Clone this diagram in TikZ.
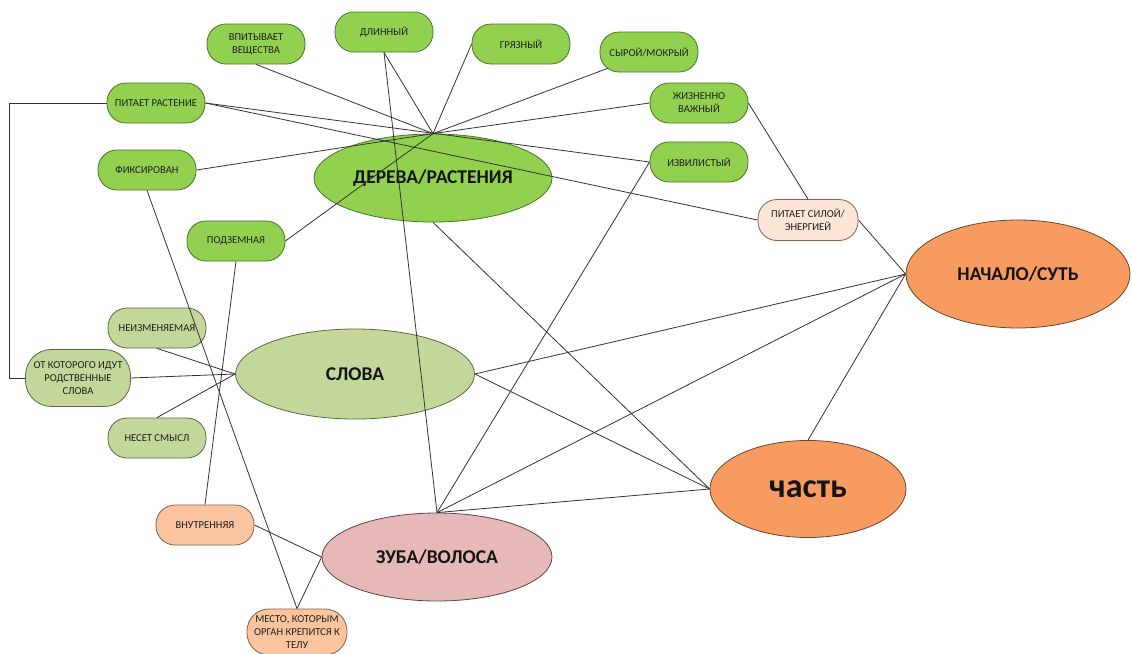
\documentclass[tikz,border=0pt]{standalone}
\usepackage{fontspec}
\setmainfont{Carlito}
\usetikzlibrary{shapes.geometric,calc}
\definecolor{gr}{HTML}{92D050}
\definecolor{grd}{HTML}{4A7526}
\definecolor{ol}{HTML}{C4D79B}
\definecolor{old}{HTML}{5C6842}
\definecolor{pl}{HTML}{FCE4D6}
\definecolor{pk}{HTML}{FAC59E}
\definecolor{pd}{HTML}{7E6350}
\definecolor{org}{HTML}{F89B60}
\definecolor{orgd}{HTML}{6E4428}
\definecolor{rose}{HTML}{E6B9B8}
\definecolor{rosed}{HTML}{5E4646}
\definecolor{ln}{HTML}{333333}
\begin{document}
\begin{tikzpicture}[x=1pt,y=-1pt,
  pill/.style={rectangle,rounded corners=19pt,minimum width=98pt,minimum height=40pt,
    inner sep=1pt,align=center,font=\fontsize{10.6}{13}\selectfont,text=black!88,line width=0.8pt},
  grpill/.style={pill,fill=gr,draw=grd},
  olpill/.style={pill,fill=ol,draw=old},
  plpill/.style={pill,fill=pl,draw=pd},
  pkpill/.style={pill,fill=pk,draw=pd},
  bigell/.style={ellipse,inner sep=0pt,line width=0.8pt,font=\fontsize{19.5}{22}\bfseries,text=black!92},
  conn/.style={draw=ln,line width=0.8pt}
]
\useasboundingbox (0,0) rectangle (1132,653);
\fill[white] (0,0) rectangle (1132,653);

% big ellipses
\node[bigell,fill=gr,draw=grd,minimum width=238pt,minimum height=88pt] (derev) at (433,178) {ДЕРЕВА/РАСТЕНИЯ};
\node[bigell,fill=org,draw=orgd,minimum width=224pt,minimum height=108pt] (nach) at (1018,274) {НАЧАЛО/СУТЬ};
\node[bigell,fill=ol,draw=old,minimum width=239pt,minimum height=90pt] (slova) at (355,374) {СЛОВА};
\node[bigell,fill=rose,draw=rosed,minimum width=230pt,minimum height=88pt] (zuba) at (437,557) {ЗУБА/ВОЛОСА};
\node[bigell,fill=org,draw=orgd,minimum width=196pt,minimum height=97pt,font=\fontsize{34}{36}\bfseries] (chast) at (808,489) {часть};

% green pills
\node[grpill] (vpit) at (256,44) {ВПИТЫВАЕТ\\ВЕЩЕСТВА};
\node[grpill] (dlin) at (384,32) {ДЛИННЫЙ};
\node[grpill] (gryaz) at (521,44) {ГРЯЗНЫЙ};
\node[grpill] (syr) at (649,52) {СЫРОЙ/МОКРЫЙ};
\node[grpill] (zhizn) at (699,103) {ЖИЗНЕННО\\ВАЖНЫЙ};
\node[grpill] (pitr) at (156,103) {ПИТАЕТ РАСТЕНИЕ};
\node[grpill] (fiks) at (147,170) {ФИКСИРОВАН};
\node[grpill] (izv) at (699,162) {ИЗВИЛИСТЫЙ};
\node[grpill] (podz) at (236,241) {ПОДЗЕМНАЯ};

% olive pills
\node[olpill] (neizm) at (157,328) {НЕИЗМЕНЯЕМАЯ};
\node[olpill,minimum width=105pt,minimum height=57pt,rounded corners=26pt,inner sep=0pt] (otk) at (78,378) {ОТ КОТОРОГО ИДУТ\\РОДСТВЕННЫЕ\\СЛОВА};
\node[olpill] (nes) at (157,438) {НЕСЕТ СМЫСЛ};

% peach pills
\node[plpill,minimum width=100pt,minimum height=41pt] (pits) at (808,220) {ПИТАЕТ СИЛОЙ/\\ЭНЕРГИЕЙ};
\node[pkpill] (vnutr) at (205,525) {ВНУТРЕННЯЯ};
\node[pkpill,minimum width=100pt,minimum height=46pt,rounded corners=22pt,inner sep=0pt] (mesto) at (297,632) {МЕСТО, КОТОРЫМ\\ОРГАН КРЕПИТСЯ К\\ТЕЛУ};

% connectors to the top of ДЕРЕВА/РАСТЕНИЯ
\coordinate (syrc) at ($(syr.south west)+(8,-4)$);
\draw[conn] (vpit.south) -- (derev.north);
\draw[conn] (dlin.south) -- (derev.north);
\draw[conn] (gryaz.west) -- (derev.north);
\draw[conn] (syrc) -- (derev.north);
\draw[conn] (zhizn.west) -- (derev.north);
\draw[conn] (fiks.east) -- (derev.north);
\draw[conn] (podz.east) -- (derev.north);

% ПИТАЕТ РАСТЕНИЕ
\draw[conn] (pitr.east) -- (izv.west);
\draw[conn] (pitr.east) -- (pits.west);
\coordinate (elbow) at (9,103);
\draw[conn] (pitr.west) -- (elbow) |- (otk.west);

% ПИТАЕТ СИЛОЙ
\draw[conn] (zhizn.east) -- (pits.north);
\draw[conn] (pits.east) -- (nach.west);

% to НАЧАЛО / часть
\draw[conn] (derev.south) -- (chast.west);
\draw[conn] (slova.east) -- (nach.west);
\draw[conn] (slova.east) -- (chast.west);
\draw[conn] (zuba.north) -- (nach.west);
\draw[conn] (zuba.north) -- (chast.west);
\draw[conn] (chast.north) -- (nach.west);

% ЗУБА/ВОЛОСА
\draw[conn] (dlin.south) -- (zuba.north);
\draw[conn] (zuba.north) -- (izv.west);
\draw[conn] (vnutr.east) -- (zuba.west);
\draw[conn] (zuba.west) -- (mesto.north);

% СЛОВА
\draw[conn] (neizm.south) -- (slova.west);
\draw[conn] (otk.east) -- (slova.west);
\draw[conn] (nes.north) -- (slova.west);

% long left lines
\draw[conn] (fiks.south) -- (mesto.north);
\draw[conn] (podz.south) -- (vnutr.north);
\end{tikzpicture}
\end{document}
